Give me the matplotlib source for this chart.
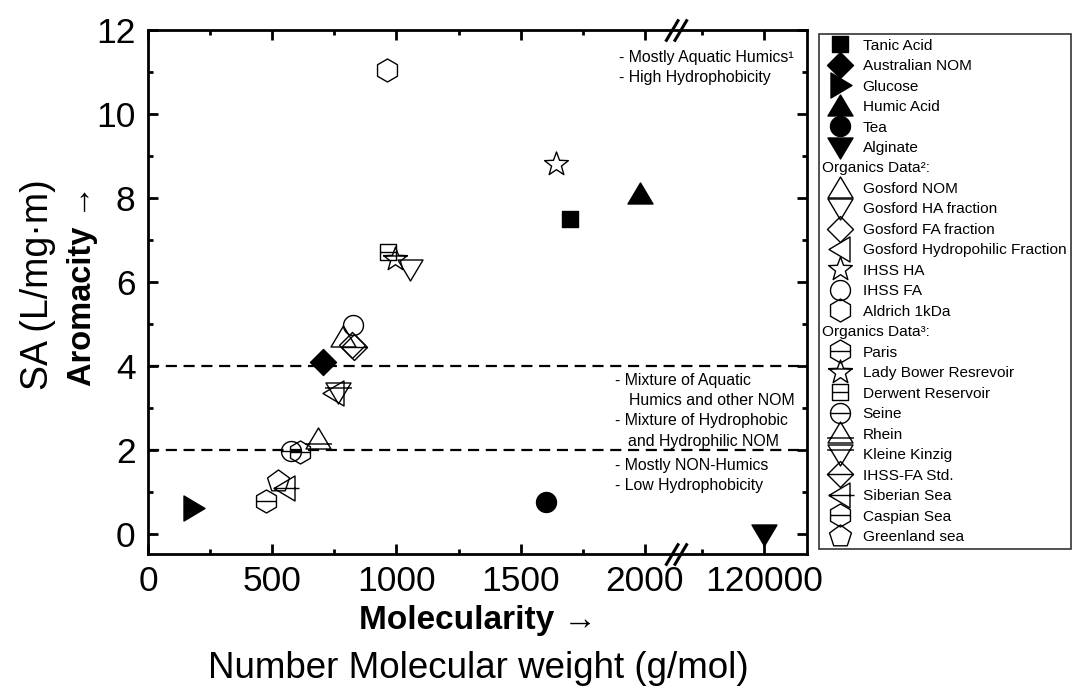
import numpy as np
import matplotlib
matplotlib.use("Agg")
import matplotlib.pyplot as plt
from matplotlib.path import Path
from matplotlib.lines import Line2D
from matplotlib.ticker import FixedLocator, NullFormatter

plt.rcParams["font.family"] = ["Liberation Sans", "DejaVu Sans"]

# ---- data (number molecular weight g/mol, SA L/mg.m) ----
FILLED_NAMES = ["Tanic Acid", "Australian NOM", "Glucose", "Humic Acid", "Tea", "Alginate"]
FILLED_MW = [1700, 703, 180, 1980, 1600, 120000]
FILLED_SA = [7.5, 4.09, 0.62, 8.1, 0.76, 0.0]

REF2_NAMES = ["Gosford NOM", "Gosford HA fraction", "Gosford FA fraction",
              "Gosford Hydropohilic Fraction", "IHSS HA", "IHSS FA", "Aldrich 1kDa"]
REF2_MW = [786, 1054, 820, 750, 1640, 826, 960]
REF2_SA = [4.70, 6.30, 4.50, 3.35, 8.80, 4.98, 11.05]

REF3_NAMES = ["Paris", "Lady Bower Resrevoir", "Derwent Reservoir", "Seine", "Rhein",
              "Kleine Kinzig", "IHSS-FA Std.", "Siberian Sea", "Caspian Sea", "Greenland sea"]
REF3_MW = [475, 994, 967, 575, 685, 765, 830, 551, 612, 524]
REF3_SA = [0.78, 6.55, 6.71, 1.97, 2.26, 3.38, 4.45, 1.10, 1.94, 1.26]

X_TICKS = [0, 500, 1000, 1500, 2000, 120000]
X_MINOR = [250, 750, 1250, 1750, 119750]
BREAK_LO, BREAK_HI = 2125, 119646
X_MAX = 120173

R_PT = 7.2  # marker unit radius in points


def fwd(x):
    x = np.asarray(x, dtype=float)
    return np.where(x <= BREAK_LO, x,
                    np.where(x >= BREAK_HI, x - (BREAK_HI - BREAK_LO), BREAK_LO))


def inv(y):
    y = np.asarray(y, dtype=float)
    return np.where(y <= BREAK_LO, y, y + (BREAK_HI - BREAK_LO))


def poly(n, r, start=90):
    a = np.deg2rad(start + 360.0 / n * np.arange(n))
    return [(r * np.cos(t), r * np.sin(t)) for t in a]


def star(r1=1.25, r2=0.52):
    a = np.deg2rad(90 + 36 * np.arange(10))
    r = np.where(np.arange(10) % 2 == 0, r1, r2)
    return [(ri * np.cos(t), ri * np.sin(t)) for ri, t in zip(r, a)]


SHAPES = {
    "square": [(-0.8, -0.8), (0.8, -0.8), (0.8, 0.8), (-0.8, 0.8)],
    "diamond": [(0, 1.3), (1.3, 0), (0, -1.3), (-1.3, 0)],
    "up": [(0, 1.15), (-1.25, -0.95), (1.25, -0.95)],
    "down": [(0, -1.15), (-1.25, 0.95), (1.25, 0.95)],
    "right": [(1.15, 0), (-0.95, 1.25), (-0.95, -1.25)],
    "left": [(-1.15, 0), (0.95, 1.25), (0.95, -1.25)],
    "circle": poly(40, 1.0),
    "hexagon": poly(6, 1.15),
    "pentagon": poly(5, 1.15),
    "star": star(),
}


def marker(shape, line=None):
    pts = SHAPES[shape]
    verts = list(pts) + [pts[0]]
    codes = [Path.MOVETO] + [Path.LINETO] * (len(pts) - 1) + [Path.CLOSEPOLY]
    if line is not None:
        verts += list(line)
        codes += [Path.MOVETO, Path.LINETO]
    ext = np.max(np.abs(np.array(verts)))
    return Path(verts, codes), 2 * ext * R_PT


FILLED_MARKERS = [marker("square"), marker("diamond"), marker("right"),
                  marker("up"), marker("circle"), marker("down")]
REF2_MARKERS = [marker("up"), marker("down"), marker("diamond"), marker("left"),
                marker("star"), marker("circle"), marker("hexagon")]
REF3_MARKERS = [
    marker("hexagon", [(-1.0, 0), (1.0, 0)]),
    marker("star", [(-1.2, 0.35), (1.2, 0.35)]),
    marker("square", [(-0.8, 0), (0.8, 0)]),
    marker("circle", [(-1.0, 0), (1.0, 0)]),
    marker("up", [(-1.35, -0.45), (1.35, -0.45)]),
    marker("down", [(-1.35, 0.45), (1.35, 0.45)]),
    marker("diamond", [(-1.3, 0), (1.3, 0)]),
    marker("left", [(-1.15, 0), (1.4, 0)]),
    marker("hexagon", [(-1.0, 0), (1.0, 0)]),
    marker("pentagon"),
]


def main():
    fig = plt.figure(figsize=(10.75, 6.89), dpi=100)
    ax = fig.add_axes([148 / 1075, 1 - 554 / 689, (807 - 148) / 1075, (554 - 30) / 689])
    ax.set_xscale("function", functions=(fwd, inv))

    handles, labels = [], []
    for name, x, y, (p, ms) in zip(FILLED_NAMES, FILLED_MW, FILLED_SA, FILLED_MARKERS):
        h, = ax.plot([x], [y], ls="none", marker=p, ms=ms, mfc="k", mec="k",
                     mew=1.0, clip_on=False, zorder=3)
        handles.append(h)
        labels.append(name)

    groups = [("Organics Data²:", REF2_NAMES, REF2_MW, REF2_SA, REF2_MARKERS),
              ("Organics Data³:", REF3_NAMES, REF3_MW, REF3_SA, REF3_MARKERS)]
    for title, names, xs, ys, mks in groups:
        handles.append(Line2D([], [], ls="none"))
        labels.append(title)
        for name, x, y, (p, ms) in zip(names, xs, ys, mks):
            h, = ax.plot([x], [y], ls="none", marker=p, ms=ms, mfc="none",
                         mec="k", mew=1.0, zorder=3)
            handles.append(h)
            labels.append(name)

    # region boundaries
    for yb in (4, 2):
        ax.axhline(yb, color="k", lw=1.6, ls=(0, (5, 3)), zorder=1)

    ax.set_xlim(0, X_MAX)
    ax.set_ylim(-0.48, 12.0)
    ax.xaxis.set_major_locator(FixedLocator(X_TICKS))
    ax.xaxis.set_minor_locator(FixedLocator(X_MINOR))
    ax.xaxis.set_minor_formatter(NullFormatter())
    ax.set_xticklabels([str(t) for t in X_TICKS])
    ax.set_yticks(np.arange(0, 13, 2))
    ax.set_yticks(np.arange(1, 12, 2), minor=True)
    ax.tick_params(which="both", direction="in", top=True, right=True, width=2,
                   labelsize=25.5)
    ax.tick_params(which="major", length=7.5)
    ax.tick_params(which="minor", length=3.8)
    ax.tick_params(axis="x", pad=8)
    ax.tick_params(axis="y", pad=9)
    for s in ax.spines.values():
        s.set_linewidth(2)

    # axis break marks "//" on bottom and top spines
    bv = [(-10.75, -11), (2.25, 11), (-2.25, -11), (10.75, 11)]
    bpath = Path(bv, [Path.MOVETO, Path.LINETO, Path.MOVETO, Path.LINETO])
    ax.plot([BREAK_LO, BREAK_LO], [0, 1], transform=ax.get_xaxis_transform(),
            ls="none", marker=bpath, ms=16, mec="k", mew=2.2, clip_on=False, zorder=5)

    # annotations
    fs = 11.4
    ax.text(1895, 11.35, "- Mostly Aquatic Humics¹", fontsize=fs, va="center")
    ax.text(1895, 10.87, "- High Hydrophobicity", fontsize=fs, va="center")
    ax.text(1879, 3.66, "- Mixture of Aquatic", fontsize=fs, va="center")
    ax.text(1936, 3.18, "Humics and other NOM", fontsize=fs, va="center")
    ax.text(1879, 2.69, "- Mixture of Hydrophobic", fontsize=fs, va="center")
    ax.text(1932, 2.21, "and Hydrophilic NOM", fontsize=fs, va="center")
    ax.text(1879, 1.62, "- Mostly NON-Humics", fontsize=fs, va="center")
    ax.text(1879, 1.14, "- Low Hydrophobicity", fontsize=fs, va="center")

    # axis titles
    fig.text(38 / 1075, 1 - 285 / 689, "SA (L/mg·m)", rotation=90,
             ha="center", va="center", fontsize=27)
    fig.text(82 / 1075, 1 - 285 / 689, "Aromacity →", rotation=90,
             ha="center", va="center", fontsize=23.5, fontweight="bold")
    fig.text(478 / 1075, 1 - 621 / 689, "Molecularity →",
             ha="center", va="center", fontsize=24, fontweight="bold")
    fig.text(478 / 1075, 1 - 668 / 689, "Number Molecular weight (g/mol)",
             ha="center", va="center", fontsize=26.5)

    lfs = 11.1
    leg = ax.legend(handles, labels, loc="upper left",
                    bbox_to_anchor=(819 / 1075, 1 - 34 / 689),
                    bbox_transform=fig.transFigure, frameon=True, fancybox=False,
                    edgecolor="k", fontsize=lfs, borderpad=0.3, labelspacing=0.42,
                    handlelength=2.15, handletextpad=0.38, borderaxespad=0)
    leg.get_frame().set_linewidth(1.2)
    for t in leg.get_texts():
        if t.get_text().startswith("Organics"):
            t.set_x(-41)

    fig.savefig("out.png", dpi=100)
    plt.close(fig)


if __name__ == "__main__":
    main()
